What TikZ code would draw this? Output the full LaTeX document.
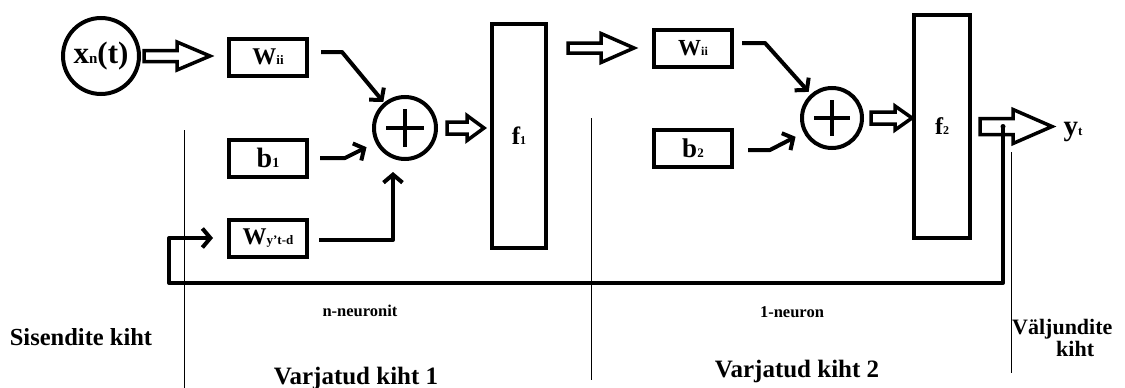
\documentclass[tikz,border=0pt]{standalone}
\usepackage{fontspec}
\setmainfont{Liberation Serif}
\usepackage{tikz}
\usetikzlibrary{arrows.meta}

\newcommand{\fs}[1]{\fontsize{#1}{#1}\selectfont}
% hollow block arrow: start, length, shaft half, head half, head length
\newcommand{\hollowarrow}[5]{%
  \draw[fat] (#1) ++(0,#3) -- ++(#2-#5,0) -- ++(0,#4-#3) -- ++(#5,-#4)
    -- ++(-#5,-#4) -- ++(0,#4-#3) -- ++(-#2+#5,0) -- cycle;}

\begin{document}
\begin{tikzpicture}[x=1pt,y=-1pt,
  thk/.style={line width=4pt},
  box/.style={draw, thk, minimum width=78pt, minimum height=37pt, inner sep=0pt, font=\bfseries},
  fbox/.style={draw, thk, inner sep=0pt, font=\bfseries},
  sumc/.style={draw, thk, circle, inner sep=0pt, font=\bfseries},
  conn/.style={thk, -{Straight Barb[length=8pt,width=19pt]}, line join=round},
  fat/.style={line width=3.5pt, line join=miter},
  sep/.style={line width=1pt},
  lab/.style={font=\bfseries, inner sep=0pt}]

\useasboundingbox (0,0) rectangle (1125,388);

% hidden layer 1
\node[sumc, minimum size=76pt] (xin) at (101,56) {\fs{31}x{\fs{15}n}(t)};
\node[box] (w1) at (268,57) {\fs{24}W{\fs{13}ii}};
\node[box] (b1) at (268,158) {\fs{28}b{\fs{14}1}};
\node[box] (wy) at (268,238) {\fs{24}W{\fs{13}y't-d}};
\node[sumc, minimum size=62pt] (sum1) at (405,128) {};
\node[fbox, minimum width=54pt, minimum height=224pt] (f1) at (519,136) {\fs{25}f{\fs{12}1}};

% hidden layer 2
\node[box] (w2) at (693,48) {\fs{23}W{\fs{12}ii}};
\node[box] (b2) at (693,148) {\fs{27}b{\fs{13}2}};
\node[sumc, minimum size=60pt] (sum2) at (832,118) {};
\node[fbox, minimum width=56pt, minimum height=223pt] (f2) at (942,126.5) {\fs{24}f{\fs{12}2}};
\node[lab] (yout) at (1073,132) {\fs{29}y{\fs{13}t}};

\foreach \s/\a in {sum1/19,sum2/18} {
  \draw[thk] (\s.center) ++(-\a,0) -- ++(2*\a,0);
  \draw[thk] (\s.center) ++(0,-\a) -- ++(0,2*\a);
}

\hollowarrow{[xshift=3]xin.east}{66}{5.5}{14}{33}
\hollowarrow{[xshift=9]sum1.east}{37}{6}{12.5}{17}
\hollowarrow{[xshift=20]f1.east |- w2.west}{66}{5}{14.5}{33}
\hollowarrow{[xshift=7]sum2.east}{41}{6}{12}{17}
\hollowarrow{[xshift=8]f2.east}{72}{8}{17}{39}

\draw[conn, shorten >=1] ([shift={(12,-5)}]w1.east) -- ++(21,0) -- (sum1);
\draw[conn, shorten >=10] ([xshift=11]b1.east) -- ++(25,0) -- (sum1);
\draw[conn, shorten >=11] ([shift={(10,2)}]wy.east) -| ([xshift=-12]sum1.south);
\draw[conn, shorten >=3] ([shift={(8,-5)}]w2.east) -- ++(23,0) -- (sum2);
\draw[conn, shorten >=9] ([shift={(14,2)}]b2.east) -- ++(22,0) -- (sum2);

% feedback
\coordinate (tap) at ([xshift=31]f2.east);
\coordinate (loop) at (169,283);
\fill (tap) circle (2.5);
\draw[conn] (tap) |- (loop) |- ([xshift=-14]wy.west);

% layer borders
\draw[sep] (184,130) -- (184,388);
\draw[sep] (591,118) -- (591,380);
\draw[sep] (1011,152) -- (1011,373);

\node[lab, font=\bfseries\fs{24.5}] (inlayer) at (81,337) {Sisendite kiht};
\node[lab, font=\bfseries\fs{16.5}] (nneur) at (360,311) {n-neuronit};
\node[lab, font=\bfseries\fs{16.5}] (oneneur) at (792,312) {1-neuron};
\node[lab, font=\bfseries\fs{25}] (hid1) at (356,378) {Varjatud kiht 1};
\node[lab, font=\bfseries\fs{25}] (hid2) at (797,371) {Varjatud kiht 2};
\node[lab, font=\bfseries\fs{22}, anchor=west, align=left] (outlayer) at (1012,338) {Väljundite\\\hspace*{44pt}kiht};
\end{tikzpicture}
\end{document}
